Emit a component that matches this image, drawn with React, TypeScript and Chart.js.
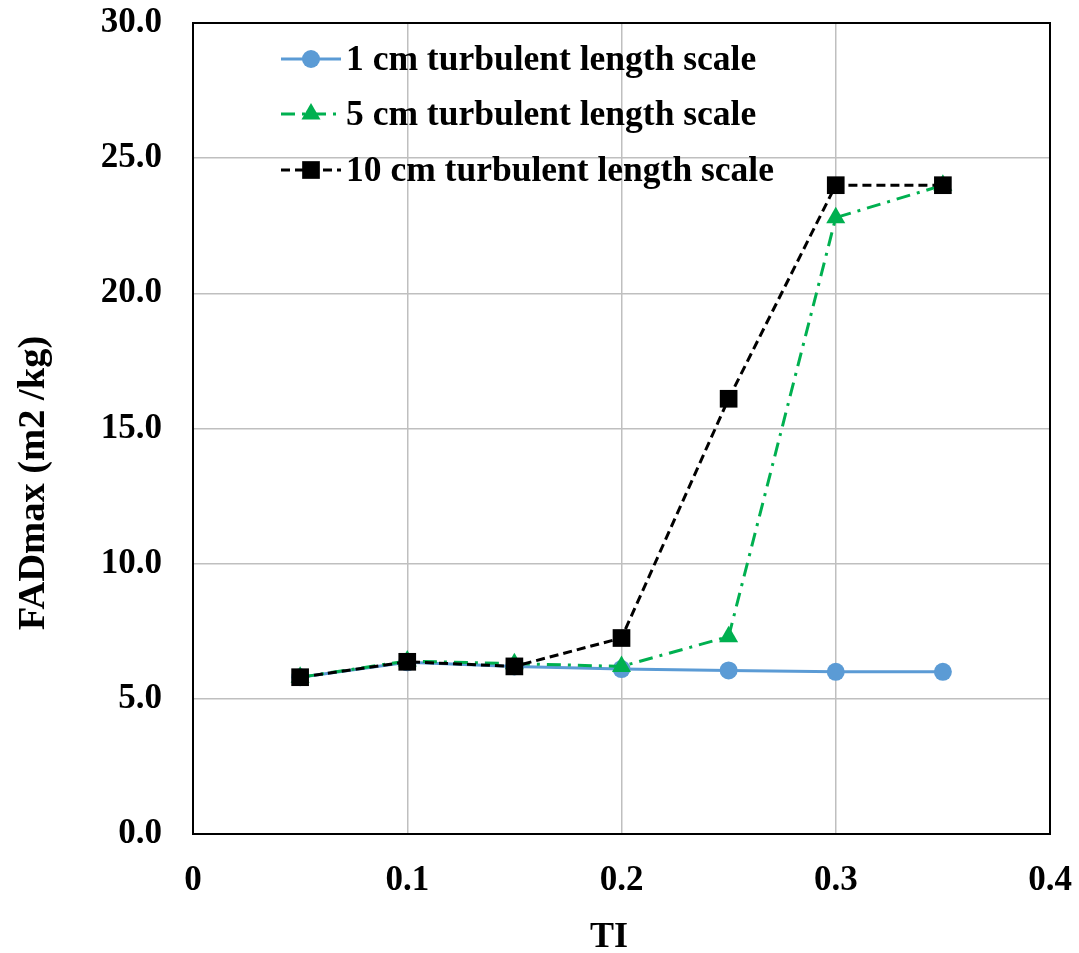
import React, { useEffect, useRef } from "react";
import { Chart, registerables } from "chart.js";

Chart.register(...registerables);

const tiValues = [0.05, 0.1, 0.15, 0.2, 0.25, 0.3, 0.35];
const fad1cm = [5.8, 6.35, 6.2, 6.1, 6.05, 6.0, 6.0];
const fad5cm = [5.8, 6.4, 6.3, 6.2, 7.3, 22.8, 24.0];
const fad10cm = [5.8, 6.37, 6.2, 7.25, 16.1, 24.0, 24.0];
const seriesLabels = [
  "1 cm turbulent length scale",
  "5 cm turbulent length scale",
  "10 cm turbulent length scale",
];
const xTickValues = [0, 0.1, 0.2, 0.3, 0.4];
const yTickValues = [0, 5, 10, 15, 20, 25, 30];
const xTitle = "TI";
const yTitle = "FADmax (m2 /kg)";

const FONT = '"Liberation Serif", "Times New Roman", serif';

const toPoints = (ys: number[]) => tiValues.map((x, i) => ({ x, y: ys[i] }));

function drawMarker(ctx: CanvasRenderingContext2D, style: string, r: number, x: number, y: number) {
  ctx.beginPath();
  if (style === "circle") {
    ctx.arc(x, y, r, 0, Math.PI * 2);
  } else if (style === "triangle") {
    for (let k = 0; k < 3; k++) {
      const a = (k * 2 * Math.PI) / 3;
      const px = x + Math.sin(a) * r;
      const py = y - Math.cos(a) * r;
      if (k === 0) ctx.moveTo(px, py);
      else ctx.lineTo(px, py);
    }
    ctx.closePath();
  } else {
    const s = Math.SQRT1_2 * r;
    ctx.rect(x - s, y - s, 2 * s, 2 * s);
  }
  ctx.fill();
}

export default function App() {
  const canvasRef = useRef<HTMLCanvasElement | null>(null);

  useEffect(() => {
    document.body.style.margin = "0";
    const canvas = canvasRef.current!;
    const legendPlugin = {
      id: "legendCustom",
      afterDraw(chart: any) {
        const { ctx } = chart;
        const rows = [59, 114, 170];
        chart.data.datasets.forEach((ds: any, i: number) => {
          const y = rows[i];
          ctx.save();
          ctx.strokeStyle = ds.borderColor;
          ctx.lineWidth = ds.borderWidth;
          ctx.setLineDash(ds.borderDash || []);
          ctx.beginPath();
          ctx.moveTo(281, y);
          ctx.lineTo(341, y);
          ctx.stroke();
          ctx.setLineDash([]);
          ctx.fillStyle = ds.pointBackgroundColor;
          drawMarker(ctx, ds.pointStyle, ds.pointRadius, 311, y);
          ctx.fillStyle = "#000";
          ctx.font = `bold 35.5px ${FONT}`;
          ctx.textAlign = "left";
          ctx.textBaseline = "middle";
          ctx.fillText(ds.label, 346, y + 2);
          ctx.restore();
        });
      },
    };
    const framePlugin = {
      id: "frame",
      afterDatasetsDraw(chart: any) {
        const { ctx, chartArea } = chart;
        ctx.save();
        ctx.strokeStyle = "#000";
        ctx.lineWidth = 2;
        ctx.strokeRect(chartArea.left, chartArea.top, chartArea.right - chartArea.left, chartArea.bottom - chartArea.top);
        ctx.fillStyle = "#000";
        ctx.font = `bold 36px ${FONT}`;
        ctx.textAlign = "center";
        ctx.textBaseline = "middle";
        ctx.fillText(xTitle, 609, 938);
        ctx.font = `bold 38.5px ${FONT}`;
        ctx.translate(34, 483);
        ctx.rotate(-Math.PI / 2);
        ctx.fillText(yTitle, 0, 0);
        ctx.restore();
      },
    };

    const chart = new Chart(canvas, {
      type: "scatter",
      data: {
        datasets: [
          {
            label: seriesLabels[0],
            data: toPoints(fad1cm),
            showLine: true,
            borderColor: "#5B9BD5",
            backgroundColor: "#5B9BD5",
            pointBackgroundColor: "#5B9BD5",
            pointBorderColor: "#5B9BD5",
            borderWidth: 3,
            pointStyle: "circle",
            pointRadius: 9,
            pointBorderWidth: 0,
            order: 2,
          },
          {
            label: seriesLabels[1],
            data: toPoints(fad5cm),
            showLine: true,
            borderColor: "#00B050",
            backgroundColor: "#00B050",
            pointBackgroundColor: "#00B050",
            pointBorderColor: "#00B050",
            borderWidth: 3,
            borderDash: [14, 7, 3, 7],
            pointStyle: "triangle",
            pointRadius: 11,
            pointBorderWidth: 0,
            order: 1,
          },
          {
            label: seriesLabels[2],
            data: toPoints(fad10cm),
            showLine: true,
            borderColor: "#000000",
            backgroundColor: "#000000",
            pointBackgroundColor: "#000000",
            pointBorderColor: "#000000",
            borderWidth: 3,
            borderDash: [9, 5],
            pointStyle: "rect",
            pointRadius: 12.5,
            pointBorderWidth: 0,
            order: 0,
          },
        ],
      },
      options: {
        animation: false,
        responsive: false,
        maintainAspectRatio: false,
        layout: { padding: { top: 23, right: 29, left: 0, bottom: 0 } },
        plugins: {
          legend: { display: false },
          tooltip: { enabled: false },
          title: { display: false },
        },
        scales: {
          x: {
            type: "linear",
            min: 0,
            max: 0.4,
            afterBuildTicks: (scale: any) => {
              scale.ticks = xTickValues.map((v) => ({ value: v }));
            },
            afterFit: (scale: any) => {
              scale.height = 119;
              scale.paddingLeft = 0;
              scale.paddingRight = 0;
            },
            grid: { color: "#BFBFBF", lineWidth: 1.5, drawTicks: false },
            border: { display: false },
            ticks: {
              padding: 26,
              color: "#000",
              font: { family: FONT, size: 35, weight: "bold" },
              maxRotation: 0,
              callback: (v: any) => String(Number(v)),
            },
          },
          y: {
            type: "linear",
            min: 0,
            max: 30,
            afterBuildTicks: (scale: any) => {
              scale.ticks = yTickValues.map((v) => ({ value: v }));
            },
            afterFit: (scale: any) => {
              scale.width = 193;
              scale.paddingTop = 0;
              scale.paddingBottom = 0;
            },
            grid: { color: "#BFBFBF", lineWidth: 1.5, drawTicks: false },
            border: { display: false },
            ticks: {
              padding: 31,
              color: "#000",
              font: { family: FONT, size: 35, weight: "bold" },
              callback: (v: any) => Number(v).toFixed(1),
            },
          },
        },
      },
      plugins: [framePlugin, legendPlugin],
    } as any);
    return () => chart.destroy();
  }, []);

  return (
    <div style={{ position: "fixed", left: 0, top: 0, width: 1079, height: 953, background: "#fff" }}>
      <canvas ref={canvasRef} width={1079} height={953} style={{ width: 1079, height: 953, display: "block" }} />
    </div>
  );
}
